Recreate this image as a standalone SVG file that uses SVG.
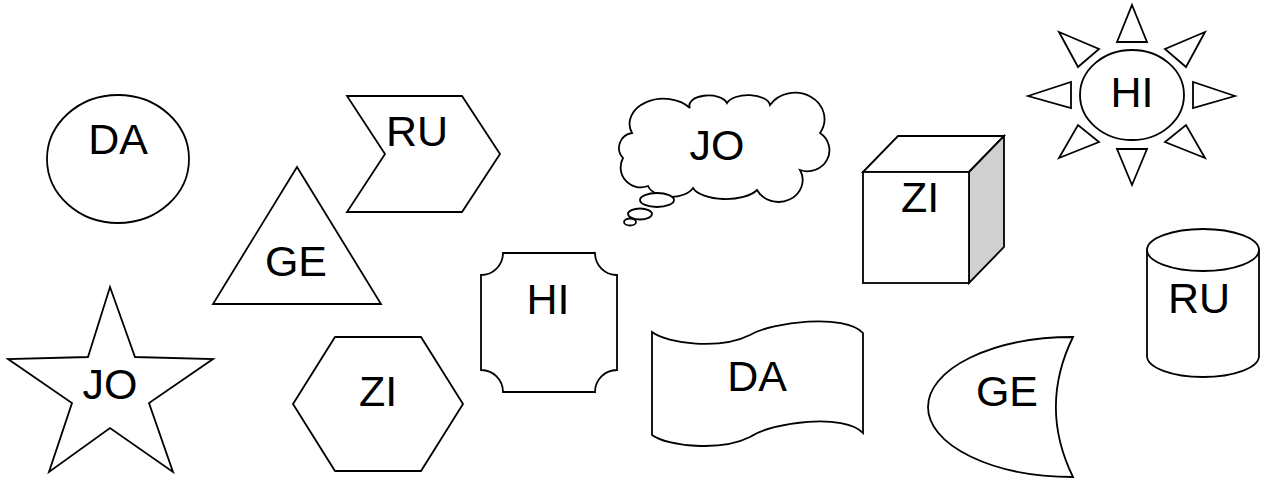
<svg xmlns="http://www.w3.org/2000/svg" width="1265" height="483" viewBox="0 0 1265 483">
<style>
.s{fill:#fff;stroke:#000;stroke-width:1.8;stroke-linejoin:miter}
.n{fill:none;stroke:#000;stroke-width:1.8}
.t{font-family:"Liberation Sans",Arial,sans-serif;font-size:43px;fill:#000;text-anchor:middle}
</style>
<rect width="1265" height="483" fill="#fff"/>
<g id="node-da-circle">
<ellipse class="s" cx="118" cy="159" rx="71" ry="64"/>
<text class="t" x="118" y="154">DA</text>
</g>
<g id="node-ru-chevron">
<polygon class="s" points="347,96 462,96 500,154 462,212 347,212 385,154"/>
<text class="t" x="417" y="146">RU</text>
</g>
<g id="node-ge-triangle">
<polygon class="s" points="297,167 381,304 213,304"/>
<text class="t" x="296" y="276">GE</text>
</g>
<g id="node-jo-star">
<polygon class="s" points="110,287 135,357 213,359 149,403 173,472 110,428 49,472 72,403 8,359 88,357"/>
<text class="t" x="110" y="399">JO</text>
</g>
<g id="node-zi-hexagon">
<polygon class="s" points="335,337 421,337 463,404 421,471 335,471 293,404"/>
<text class="t" x="378" y="406">ZI</text>
</g>
<g id="node-jo-cloud">
<path class="s" d="M632,133 A15,15 0 0 0 623,158 A20,20 0 0 0 648,186 A24,15 0 0 0 693,188 A34,15 0 0 0 757,190 A22,20 0 0 0 800,170 A22,21 0 0 0 820,133 A28,25 0 0 0 770,105 A22,11 0 0 0 727,103 A19,10 0 0 0 690,108 A34,25 0 0 0 632,133 Z"/>
<ellipse class="s" cx="657" cy="200" rx="17" ry="7"/>
<ellipse class="s" cx="640" cy="214" rx="12" ry="5.5"/>
<ellipse class="s" cx="630" cy="222" rx="6" ry="3.5"/>
<text class="t" x="717" y="160">JO</text>
</g>
<g id="node-hi-sun">
<ellipse class="s" cx="1132" cy="95" rx="52" ry="45"/>
<polygon class="s" points="1132,5 1147,42 1117,42"/>
<polygon class="s" points="1132,185 1147,149 1117,149"/>
<polygon class="s" points="1028,96 1071,82 1071,108"/>
<polygon class="s" points="1235,96 1193,82 1193,108"/>
<polygon class="s" points="1059,32 1099,49 1078,67"/>
<polygon class="s" points="1205,32 1165,49 1186,67"/>
<polygon class="s" points="1059,158 1099,142 1078,125"/>
<polygon class="s" points="1205,158 1165,142 1186,125"/>
<text class="t" x="1132" y="107">HI</text>
</g>
<g id="node-zi-cube">
<polygon class="s" points="863,172 898,136 1004,136 969,172"/>
<polygon class="s" points="969,172 1004,136 1004,247 969,283" style="fill:#d0d0d0"/>
<rect class="s" x="863" y="172" width="106" height="111"/>
<text class="t" x="920" y="212">ZI</text>
</g>
<g id="node-hi-plaque">
<path class="s" d="M503,253 H595 A22,22 0 0 0 617,275 V370 A22,22 0 0 0 595,392 H503 A22,22 0 0 0 481,370 V275 A22,22 0 0 0 503,253 Z"/>
<text class="t" x="548" y="314">HI</text>
</g>
<g id="node-da-wave">
<path class="s" d="M652,332 C668,344 720,350 750,335 C772,322 845,313 863,333 V433 C845,413 772,422 750,437 C720,452 668,446 652,435 Z"/>
<text class="t" x="757" y="391">DA</text>
</g>
<g id="node-ge-moon">
<path class="s" d="M1073,337 A145,70 0 0 0 1073,477 C1050,430 1050,384 1073,337 Z"/>
<text class="t" x="1007" y="406">GE</text>
</g>
<g id="node-ru-cylinder">
<path class="s" d="M1147,250 V356 A56,21 0 0 0 1259,356 V250"/>
<ellipse class="s" cx="1203" cy="250" rx="56" ry="21"/>
<text class="t" x="1199" y="313">RU</text>
</g>
<g id="connectors"></g>
</svg>
